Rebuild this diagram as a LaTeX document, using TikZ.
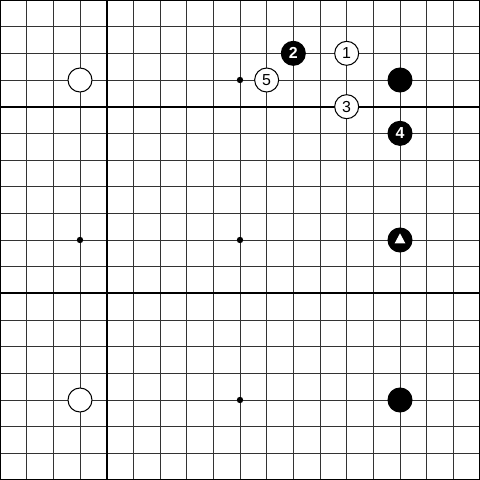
\documentclass[tikz,border=0pt]{standalone}
\usepackage{fontspec}
\setsansfont{Liberation Sans}
\begin{document}
\begin{tikzpicture}[x=0.5cm,y=-0.5cm,
  gridline/.style={draw=black!80,line width=0.5pt},
  boldline/.style={draw=black,line width=1.1pt},
  stone/.style={circle,inner sep=0pt,minimum size=0.45cm,line width=0.55pt,
    font=\sffamily\fontsize{8.5}{8.5}\selectfont},
  whitestone/.style={stone,draw=black,fill=white},
  blackstone/.style={stone,draw=black,fill=black,text=white,
    font=\sffamily\bfseries\fontsize{8.5}{8.5}\selectfont}]
        \pgfmathsetmacro{\boardSize}{18}
        \pgfmathsetmacro{\starRadius}{0.06}
        \useasboundingbox (0,0) rectangle (\boardSize,\boardSize);
        % grid
        \foreach \i in {0,...,18} {
          \draw[gridline] (\i,0) -- (\i,\boardSize);
          \draw[gridline] (0,\i) -- (\boardSize,\i);
        }
        \foreach \i in {0,4,18}
          \draw[boldline] (\i,0) -- (\i,\boardSize);
        \foreach \j in {0,4,11,18}
          \draw[boldline] (0,\j) -- (\boardSize,\j);
        % star points
        \foreach \p in {(9,3),(3,9),(9,9),(9,15)}
          \fill \p circle (\starRadius cm);
        % stones
        \node[whitestone] (wUL) at (3,3) {};
        \node[whitestone] (wLL) at (3,15) {};
        \node[blackstone] (bUR) at (15,3) {};
        \node[blackstone] (bLR) at (15,15) {};
        \node[blackstone] (bTri) at (15,9) {};
        \fill[white] ([yshift=0.125cm]bTri.center) -- ([shift={(-0.1cm,-0.0625cm)}]bTri.center)
          -- ([shift={(0.1cm,-0.0625cm)}]bTri.center) -- cycle;
        % moves
        \node[whitestone] (m1) at (13,2) {1};
        \node[blackstone] (m2) at (11,2) {2};
        \node[whitestone] (m3) at (13,4) {3};
        \node[blackstone] (m4) at (15,5) {4};
        \node[whitestone] (m5) at (10,3) {5};
      \end{tikzpicture}
\end{document}
